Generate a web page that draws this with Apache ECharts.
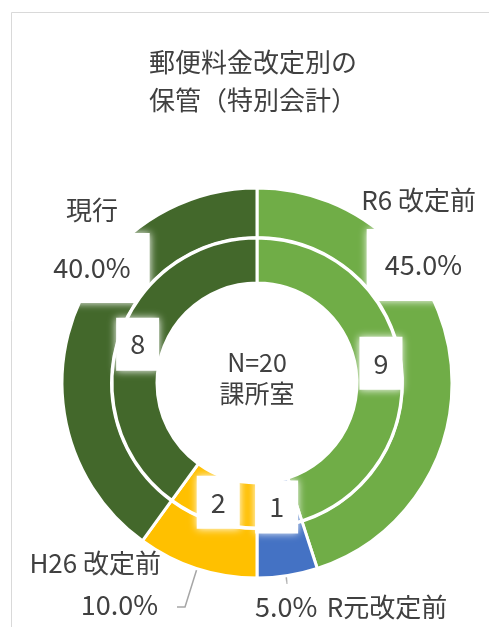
<!DOCTYPE html>
<html><head><meta charset="utf-8">
<script src="https://cdn.jsdelivr.net/npm/echarts@6/dist/echarts.min.js"></script>
<style>html,body{margin:0;padding:0;background:#fff}#chart{width:489px;height:627px}</style>
</head><body><div id="chart"></div>
<script>
// ---- data ----
const categories = ['R6 改定前', 'R元改定前', 'H26 改定前', '現行'];
const counts = [9, 1, 2, 8];
const sliceColors = ['#70AD47', '#4472C4', '#FFC000', '#43682B'];
const titleLines = ['郵便料金改定別の', '保管（特別会計）'];
const centerLines = ['N=20', '課所室'];

const total = counts.reduce((a, b) => a + b, 0);
const pct = v => (v / total * 100).toFixed(1) + '%';

const FONT = "'Noto Sans CJK JP', 'Noto Sans', sans-serif";
const TXT = '#404040';
const CX = 257, CY = 383, R_IN = 145.5, R_OUT = 195;

const twoLine = (n, p) => `{n|${n}}\n{p|${p}}`;
const oneLine = (n, p) => `{p|${p}}  {n|${n}}`;
// label placement for outer ring (Excel manual layout); lineEnd = where the leader line meets the label
const outerLabelSpec = [
  { x: 476, y: 171, align: 'right', vAlign: 'top', fmt: twoLine, nLH: 58, pad: [20, 14, 20, 18], line: null },
  { x: 251, y: 607, align: 'left', vAlign: 'middle', fmt: oneLine, nLH: 40, pad: [6, 4, 6, 4], line: [[287, 584]] },
  { x: 161, y: 545, align: 'right', vAlign: 'top', fmt: twoLine, nLH: 36, pad: [8, 3, 8, 16], line: [[185, 607], [177, 607]] },
  { x: 92, y: 187, align: 'center', vAlign: 'top', fmt: twoLine, nLH: 46, pad: [19, 19, 19, 19], line: null }
];

const boxStyle = { backgroundColor: '#ffffff', shadowBlur: 8, shadowColor: '#ffffff' };

// mid angle (clockwise from 12 o'clock) of each slice, from the data
const midAngles = (() => {
  let acc = 0;
  return counts.map(v => { const m = (acc + v / 2) / total * 360; acc += v; return m; });
})();

const outerData = categories.map((name, i) => {
  const s = outerLabelSpec[i];
  return {
    name, value: counts[i],
    itemStyle: { color: sliceColors[i] },
    label: {
      formatter: () => s.fmt(name, pct(counts[i])),
      rich: {
        n: { fontSize: 26, color: TXT, fontFamily: FONT, lineHeight: s.nLH },
        p: Object.assign({ fontSize: 27, color: TXT, fontFamily: FONT, height: 32, padding: s.pad }, boxStyle)
      }
    },
    labelLine: { show: !!s.line }
  };
});

const innerData = categories.map((name, i) => ({
  name, value: counts[i], itemStyle: { color: sliceColors[i] }
}));

const chart = echarts.init(document.getElementById('chart'), null, { renderer: 'canvas' });
chart.setOption({
  animation: false,
  backgroundColor: '#ffffff',
  title: {
    text: titleLines.join('\n'),
    left: 253, top: 43, padding: 0, textAlign: 'center',
    textStyle: { fontSize: 26, lineHeight: 38, fontWeight: 'normal', color: TXT, fontFamily: FONT }
  },
  graphic: [
    { type: 'rect', silent: true, shape: { x: 11.5, y: 12.5, width: 600, height: 700 },
      style: { fill: 'none', stroke: '#d9d9d9', lineWidth: 1 } },
    { type: 'text', silent: true, x: CX, y: 378, z: 10,
      style: { text: centerLines.join('\n'), align: 'center', verticalAlign: 'middle',
        fontSize: 25, lineHeight: 31, fill: TXT, fontFamily: FONT } }
  ],
  series: [
    {
      type: 'pie', name: 'outer', center: [CX, CY], radius: [R_IN, R_OUT],
      startAngle: 90, clockwise: true, avoidLabelOverlap: false, silent: true,
      itemStyle: { borderColor: '#ffffff', borderWidth: 3 },
      label: { show: true, position: 'outside', color: TXT, fontFamily: FONT },
      labelLine: { show: true, length: 10, length2: 10, lineStyle: { color: '#a6a6a6', width: 1.5 } },
      labelLayout: function (params) {
        const i = params.dataIndex;
        const s = outerLabelSpec[i];
        const out = { x: s.x, y: s.y, align: s.align, verticalAlign: s.vAlign };
        if (s.line) {
          const a = midAngles[i] * Math.PI / 180;
          const r = (R_IN + R_OUT) / 2 - 2;
          const start = [CX + r * Math.sin(a), CY - r * Math.cos(a)];
          const pts = [start].concat(s.line);
          if (pts.length === 2) pts.push(s.line[0]);
          out.labelLinePoints = pts;
        }
        return out;
      },
      data: outerData, z: 2
    },
    {
      type: 'pie', name: 'inner', center: [CX, CY], radius: [100, 145],
      startAngle: 90, clockwise: true, avoidLabelOverlap: false, silent: true,
      itemStyle: { borderColor: '#ffffff', borderWidth: 3 },
      label: Object.assign({
        show: true, position: 'inside', formatter: '{c}', fontSize: 27, color: TXT,
        fontFamily: FONT, padding: [13, 14]
      }, boxStyle),
      labelLine: { show: false },
      data: innerData, z: 3
    }
  ]
});
</script></body></html>
